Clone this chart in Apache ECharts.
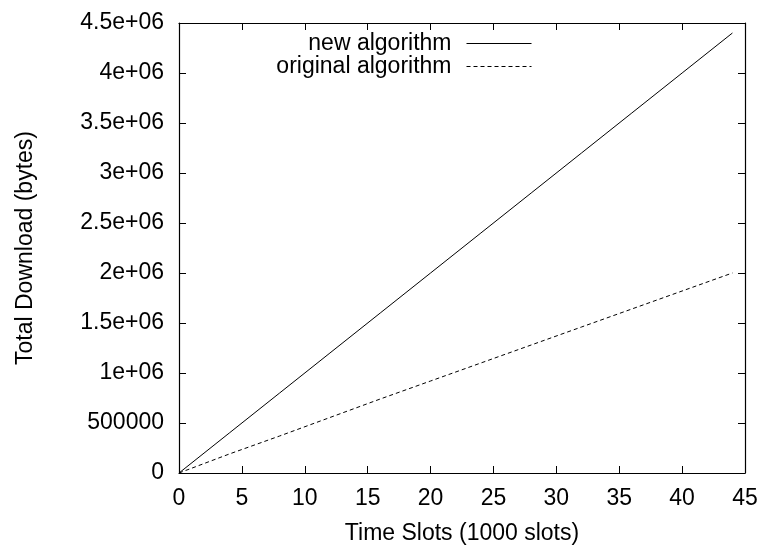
<!DOCTYPE html>
<html>
<head>
<meta charset="utf-8">
<script src="https://cdn.jsdelivr.net/npm/echarts@6/dist/echarts.min.js"></script>
<style>html,body{margin:0;padding:0;background:#fff}#c{width:762px;height:546px}</style>
</head>
<body>
<div id="c"></div>
<script>
const timeSlots = [0, 4, 8, 12, 16, 20, 24, 28, 32, 36, 40, 44];
const newAlgorithm = [0, 400000, 800000, 1200000, 1600000, 2000000, 2400000, 2800000, 3200000, 3600000, 4000000, 4400000];
const originalAlgorithm = [0, 190000, 370000, 555000, 740000, 920000, 1100000, 1280000, 1460000, 1640000, 1820000, 2000000];
const xTickLabels = ['0','5','10','15','20','25','30','35','40','45'];
const yTickLabels = ['0','500000','1e+06','1.5e+06','2e+06','2.5e+06','3e+06','3.5e+06','4e+06','4.5e+06'];
const seriesNames = ['new algorithm', 'original algorithm'];

const font = 'Liberation Sans, Arial, Helvetica, sans-serif';
const fs = 23;
const chart = echarts.init(document.getElementById('c'), null, {renderer: 'canvas'});
const axisLine = {show: true, onZero: false, lineStyle: {color: '#000', width: 1.2}};
const axisTick = {show: true, inside: true, length: 7, lineStyle: {color: '#000', width: 1}};
const legendBase = {right: 230, align: 'right', itemWidth: 65, itemHeight: 10, padding: 0,
  itemStyle: {opacity: 0, borderWidth: 0}, lineStyle: {width: 1},
  textStyle: {fontFamily: font, fontSize: fs, color: '#000', padding: [0, 10, 0, 0]}, selectedMode: false};
chart.setOption({
  animation: false,
  backgroundColor: '#fff',
  grid: {left: 179, right: 17, top: 23, bottom: 73, containLabel: false, outerBoundsMode: 'none'},
  legend: [
    Object.assign({data: [seriesNames[0]], top: 32}, legendBase),
    Object.assign({data: [seriesNames[1]], top: 55}, legendBase)
  ],
  xAxis: [
    {type: 'value', min: 0, max: 45, interval: 5, position: 'bottom',
     name: 'Time Slots (1000 slots)', nameLocation: 'middle', nameGap: 49,
     nameTextStyle: {fontFamily: font, fontSize: fs, color: '#000'},
     axisLine, axisTick, splitLine: {show: false},
     axisLabel: {fontFamily: font, fontSize: fs, color: '#000', margin: 14,
       formatter: v => xTickLabels[Math.round(v / 5)]}},
    {type: 'value', min: 0, max: 45, interval: 5, position: 'top',
     axisLine, axisTick, splitLine: {show: false}, axisLabel: {show: false}}
  ],
  yAxis: [
    {type: 'value', min: 0, max: 4500000, interval: 500000, position: 'left',
     name: 'Total Download (bytes)', nameLocation: 'middle', nameGap: 142, nameRotate: 90,
     nameTextStyle: {fontFamily: font, fontSize: fs, color: '#000'},
     axisLine, axisTick, splitLine: {show: false},
     axisLabel: {fontFamily: font, fontSize: fs, color: '#000', margin: 15, padding: [4, 0, 0, 0],
       formatter: v => yTickLabels[Math.round(v / 500000)]}},
    {type: 'value', min: 0, max: 4500000, interval: 500000, position: 'right',
     axisLine, axisTick, splitLine: {show: false}, axisLabel: {show: false}}
  ],
  series: [
    {name: seriesNames[0], type: 'line', showSymbol: false, symbol: 'none',
     data: timeSlots.map((x, i) => [x, newAlgorithm[i]]),
     lineStyle: {color: '#000', width: 1, type: 'solid'}, itemStyle: {color: '#000'}},
    {name: seriesNames[1], type: 'line', showSymbol: false, symbol: 'none',
     data: timeSlots.map((x, i) => [x, originalAlgorithm[i]]),
     lineStyle: {color: '#000', width: 1, type: [4, 3]}, itemStyle: {color: '#000'}}
  ]
});
</script>
</body>
</html>
